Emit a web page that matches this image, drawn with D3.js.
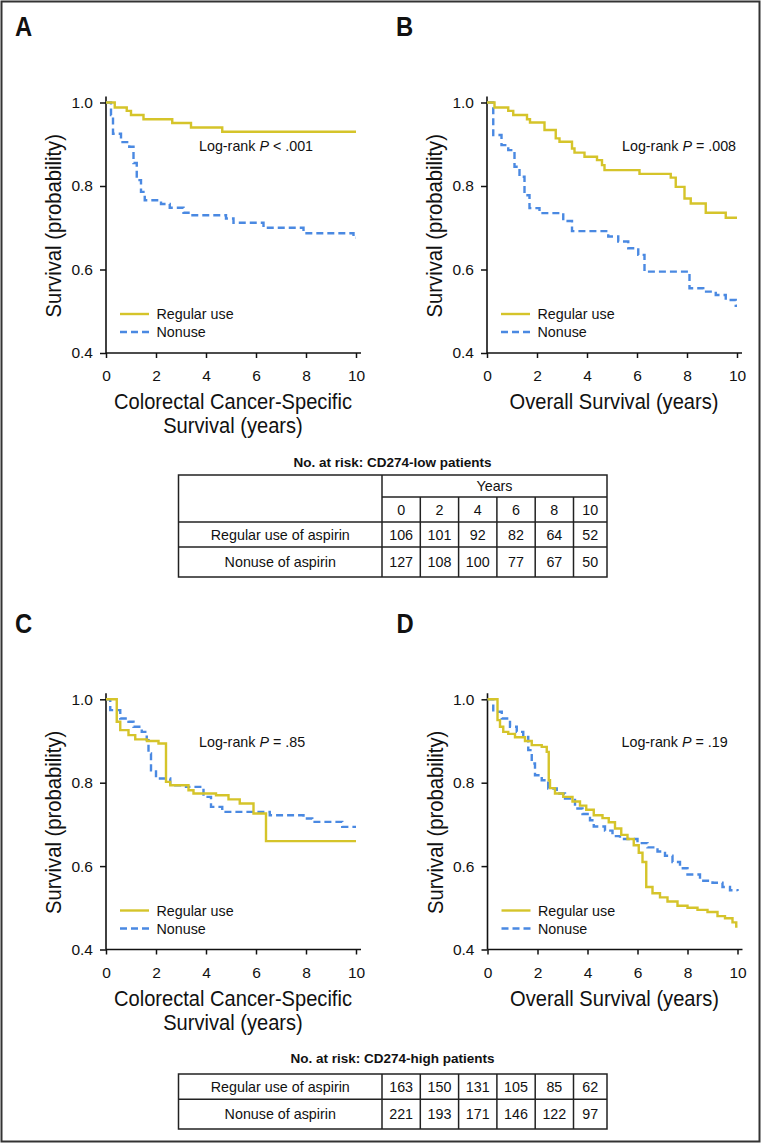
<!DOCTYPE html>
<html>
<head>
<meta charset="utf-8">
<script src="https://cdn.jsdelivr.net/npm/d3@7"></script>
<style>
body { margin: 0; background: #fff; }
text { font-family: "Liberation Sans", Arial, Helvetica, sans-serif; fill: #111; }
</style>
</head>
<body>
<script>
// ---------- DATA ----------
const xTicks = [0, 2, 4, 6, 8, 10];
const yTicks = [0.4, 0.6, 0.8, 1.0];
const seriesNames = ["Regular use", "Nonuse"];
const panelLetters = ["A", "B", "C", "D"];
const xTitlesCSS = ["Colorectal Cancer-Specific", "Survival (years)"];
const xTitlesOS = ["Overall Survival (years)"];
const yTitle = "Survival (probability)";
const pValues = ["< .001", "= .008", "= .85", "= .19"];

// Kaplan-Meier steps: [years, survival after step]
const aRegular = [[0,1],[0.35,0.988],[0.83,0.98],[1.0,0.97],[1.5,0.96],[2.65,0.951],[3.4,0.94],[4.65,0.93],[10,0.93]];
const aNonuse = [[0,1],[0.2,0.97],[0.28,0.925],[0.6,0.905],[0.93,0.894],[1.1,0.855],[1.23,0.814],[1.4,0.786],[1.55,0.766],[2.2,0.757],[2.55,0.748],[3.1,0.736],[3.3,0.73],[4.8,0.722],[5.1,0.712],[6.3,0.70],[7.9,0.687],[9.9,0.676],[10,0.676]];
const bRegular = [[0,1],[0.3,0.988],[0.85,0.98],[1.05,0.97],[1.6,0.96],[1.72,0.952],[2.3,0.934],[2.75,0.914],[2.9,0.906],[3.4,0.89],[3.5,0.88],[3.9,0.87],[4.4,0.862],[4.6,0.85],[4.7,0.838],[6.1,0.829],[7.35,0.82],[7.55,0.798],[7.9,0.77],[8.15,0.758],[8.75,0.736],[9.55,0.724],[10,0.724]];
const bNonuse = [[0,1],[0.25,0.922],[0.58,0.898],[0.85,0.886],[1.1,0.846],[1.3,0.822],[1.5,0.778],[1.7,0.747],[2.1,0.735],[3.05,0.716],[3.4,0.692],[4.85,0.679],[5.25,0.667],[5.65,0.651],[6.05,0.635],[6.3,0.595],[8.1,0.555],[8.65,0.547],[9.15,0.539],[9.55,0.527],[9.95,0.513],[10,0.513]];
const cRegular = [[0,1],[0.43,0.946],[0.57,0.926],[0.9,0.914],[1.17,0.904],[1.64,0.90],[2.1,0.894],[2.4,0.802],[2.57,0.794],[3.3,0.782],[3.5,0.774],[4.4,0.77],[4.9,0.76],[5.35,0.75],[5.9,0.726],[6.4,0.66],[10,0.66]];
const cNonuse = [[0,1],[0.17,0.974],[0.57,0.954],[0.9,0.946],[1.1,0.934],[1.43,0.922],[1.63,0.902],[1.7,0.87],[1.8,0.83],[2.0,0.81],[2.57,0.794],[3.2,0.79],[3.9,0.766],[4.2,0.742],[4.65,0.73],[6.55,0.722],[7.9,0.714],[8.25,0.706],[9.45,0.694],[10,0.694]];
const dRegular = [[0,1],[0.4,0.95],[0.5,0.934],[0.63,0.922],[0.83,0.917],[1.1,0.909],[1.5,0.90],[1.77,0.89],[2.17,0.886],[2.37,0.874],[2.45,0.806],[2.5,0.787],[2.7,0.774],[3.03,0.766],[3.4,0.755],[3.7,0.745],[3.95,0.735],[4.25,0.722],[4.6,0.715],[4.85,0.705],[5.1,0.69],[5.35,0.675],[5.6,0.665],[5.85,0.65],[6.05,0.632],[6.2,0.61],[6.35,0.55],[6.6,0.535],[6.9,0.525],[7.2,0.515],[7.6,0.505],[8.0,0.50],[8.4,0.495],[8.8,0.49],[9.2,0.48],[9.5,0.475],[9.8,0.465],[9.95,0.455],[10,0.455]];
const dNonuse = [[0,1],[0.23,0.97],[0.57,0.954],[0.9,0.934],[1.17,0.922],[1.43,0.91],[1.63,0.878],[1.77,0.846],[1.9,0.818],[2.17,0.806],[2.43,0.786],[2.77,0.774],[3.1,0.762],[3.5,0.738],[3.8,0.725],[4.1,0.71],[4.25,0.695],[4.7,0.685],[5.0,0.672],[5.3,0.665],[6.0,0.655],[6.4,0.645],[6.8,0.635],[7.1,0.625],[7.4,0.61],[7.7,0.595],[8.0,0.58],[8.5,0.565],[9.0,0.56],[9.4,0.55],[9.7,0.542],[10,0.54]];

// Numbers at risk
const tableYears = [0, 2, 4, 6, 8, 10];
const tableRowLabels = ["Regular use of aspirin", "Nonuse of aspirin"];
const lowRegular = [106, 101, 92, 82, 64, 52];
const lowNonuse = [127, 108, 100, 77, 67, 50];
const highRegular = [163, 150, 131, 105, 85, 62];
const highNonuse = [221, 193, 171, 146, 122, 97];
const tableTitles = ["No. at risk: CD274-low patients", "No. at risk: CD274-high patients"];

// ---------- STYLE ----------
const YELLOW = "#d5c42a";
const BLUE = "#4a89e2";
const INK = "#111";
const TFS = 14.3;

const svg = d3.select("body").append("svg").attr("width", 762).attr("height", 1144);

svg.append("rect").attr("x", 1.5).attr("y", 1.5).attr("width", 758).attr("height", 1140)
  .attr("fill", "#fff").attr("stroke", "#333").attr("stroke-width", 2);

function condense(sel, ratio) {
  sel.each(function () {
    const w = this.getComputedTextLength();
    d3.select(this).attr("textLength", w * ratio).attr("lengthAdjust", "spacingAndGlyphs");
  });
}

const panels = [
  { letter: panelLetters[0], x0: 106, yTop: 102.5, yBot: 353, reg: aRegular, non: aNonuse, p: pValues[0], pX: 93, title: xTitlesCSS },
  { letter: panelLetters[1], x0: 487, yTop: 102.5, yBot: 353, reg: bRegular, non: bNonuse, p: pValues[1], pX: 135, title: xTitlesOS },
  { letter: panelLetters[2], x0: 106, yTop: 699.3, yBot: 949.5, reg: cRegular, non: cNonuse, p: pValues[2], pX: 93, title: xTitlesCSS },
  { letter: panelLetters[3], x0: 487.5, yTop: 699.3, yBot: 949.5, reg: dRegular, non: dNonuse, p: pValues[3], pX: 134, title: xTitlesOS }
];

panels.forEach(P => {
  const x = d3.scaleLinear().domain([0, 10]).range([P.x0, P.x0 + 250]);
  const y = d3.scaleLinear().domain([0.4, 1.0]).range([P.yBot, P.yTop]);
  const g = svg.append("g");

  // panel letter
  g.append("text").attr("x", P.x0 - 91).attr("y", P.yTop - 66.5)
    .attr("font-size", 28).attr("font-weight", "bold").text(P.letter)
    .call(condense, 0.85);

  // axes
  const ya = g.append("g").attr("transform", `translate(${x(0)},0)`)
    .call(d3.axisLeft(y).tickValues(yTicks).tickFormat(d3.format(".1f")).tickSize(6).tickPadding(7));
  const xa = g.append("g").attr("transform", `translate(0,${y(0.4)})`)
    .call(d3.axisBottom(x).tickValues(xTicks).tickSize(5).tickPadding(12));
  [ya, xa].forEach(a => {
    a.select(".domain").remove();
    a.selectAll(".tick line").attr("stroke", INK).attr("stroke-width", 1.5);
    a.selectAll(".tick text").attr("font-size", 15.5).attr("fill", INK)
      .style("font-family", '"Liberation Sans", Arial, sans-serif');
  });
  g.append("line").attr("x1", x(0)).attr("x2", x(0)).attr("y1", y(1.0) - 6).attr("y2", y(0.4))
    .attr("stroke", INK).attr("stroke-width", 1.6);
  g.append("line").attr("x1", x(0)).attr("x2", x(10) + 5).attr("y1", y(0.4)).attr("y2", y(0.4))
    .attr("stroke", INK).attr("stroke-width", 1.6);

  // y title
  g.append("text").attr("transform", `translate(${P.x0 - 45},${(P.yTop + P.yBot) / 2 - 2}) rotate(-90)`)
    .attr("text-anchor", "middle").attr("font-size", 22).text(yTitle)
    .call(condense, 0.92);

  // x title
  P.title.forEach((t, i) => {
    g.append("text").attr("x", x(5) + 2).attr("y", y(0.4) + 56 + i * 24)
      .attr("text-anchor", "middle").attr("font-size", 21.5).text(t)
      .call(condense, 0.935);
  });

  // curves
  const line = d3.line().x(d => x(d[0])).y(d => y(d[1])).curve(d3.curveStepAfter);
  g.append("path").datum(P.non).attr("d", line).attr("fill", "none")
    .attr("stroke", BLUE).attr("stroke-width", 2.4).attr("stroke-dasharray", "7,4");
  g.append("path").datum(P.reg).attr("d", line).attr("fill", "none")
    .attr("stroke", YELLOW).attr("stroke-width", 2.4);

  // log-rank
  const lr = g.append("text").attr("x", P.x0 + P.pX).attr("y", P.yTop + 48).attr("font-size", 14.3);
  lr.append("tspan").text("Log-rank ");
  lr.append("tspan").attr("font-style", "italic").text("P");
  lr.append("tspan").text(" " + P.p);

  // legend
  const legY = [y(0.4) - 39, y(0.4) - 21];
  [[YELLOW, null], [BLUE, "7,4"]].forEach((s, i) => {
    g.append("line").attr("x1", P.x0 + 14).attr("x2", P.x0 + 43).attr("y1", legY[i]).attr("y2", legY[i])
      .attr("stroke", s[0]).attr("stroke-width", 2.4).attr("stroke-dasharray", s[1]);
    g.append("text").attr("x", P.x0 + 50.5).attr("y", legY[i] + 5).attr("font-size", 14.3).text(seriesNames[i]);
  });
});

// ---------- TABLES ----------
const tLeft = 178.5, tLabelRight = 382, colW = 38.3, tRight = 607;
const colEdges = tableYears.map((d, i) => tLabelRight + i * colW).concat([tRight]);
const lineAttrs = s => s.attr("stroke", "#222").attr("stroke-width", 1.5);

function drawTable(title, titleY, rowEdges, withHeader, rowsData) {
  const g = svg.append("g");
  g.append("text").attr("x", 392.5).attr("y", titleY + 5).attr("text-anchor", "middle")
    .attr("font-size", 13.5).attr("font-weight", "bold").text(title);
  const top = rowEdges[0], bottom = rowEdges[rowEdges.length - 1];
  g.append("rect").attr("x", tLeft).attr("y", top).attr("width", tRight - tLeft).attr("height", bottom - top)
    .attr("fill", "none").call(lineAttrs);
  g.append("line").attr("x1", tLabelRight).attr("x2", tLabelRight).attr("y1", top).attr("y2", bottom).call(lineAttrs);
  if (withHeader) {
    g.append("line").attr("x1", tLabelRight).attr("x2", tRight).attr("y1", rowEdges[1]).attr("y2", rowEdges[1]).call(lineAttrs);
    g.append("text").attr("x", (tLabelRight + tRight) / 2).attr("y", (rowEdges[0] + rowEdges[1]) / 2 + 5)
      .attr("text-anchor", "middle").attr("font-size", TFS).text("Years");
    tableYears.forEach((yr, i) => {
      g.append("text").attr("x", (colEdges[i] + colEdges[i + 1]) / 2).attr("y", (rowEdges[1] + rowEdges[2]) / 2 + 5)
        .attr("text-anchor", "middle").attr("font-size", TFS).text(yr);
    });
    g.append("line").attr("x1", tLeft).attr("x2", tRight).attr("y1", rowEdges[2]).attr("y2", rowEdges[2]).call(lineAttrs);
  }
  const vTop = withHeader ? rowEdges[1] : top;
  colEdges.slice(1, -1).forEach(cx => {
    g.append("line").attr("x1", cx).attr("x2", cx).attr("y1", vTop).attr("y2", bottom).call(lineAttrs);
  });
  const startIdx = withHeader ? 2 : 0;
  rowsData.forEach((vals, r) => {
    const y0 = rowEdges[startIdx + r], y1 = rowEdges[startIdx + r + 1];
    if (r > 0) g.append("line").attr("x1", tLeft).attr("x2", tRight).attr("y1", y0).attr("y2", y0).call(lineAttrs);
    const cy = (y0 + y1) / 2 + 5;
    g.append("text").attr("x", (tLeft + tLabelRight) / 2).attr("y", cy).attr("text-anchor", "middle")
      .attr("font-size", TFS).text(tableRowLabels[r]);
    vals.forEach((v, i) => {
      g.append("text").attr("x", (colEdges[i] + colEdges[i + 1]) / 2).attr("y", cy)
        .attr("text-anchor", "middle").attr("font-size", TFS).text(v);
    });
  });
}

drawTable(tableTitles[0], 461.5, [475, 497, 522, 547, 577], true, [lowRegular, lowNonuse]);
drawTable(tableTitles[1], 1057.5, [1074, 1099.3, 1129], false, [highRegular, highNonuse]);
</script>
</body>
</html>
